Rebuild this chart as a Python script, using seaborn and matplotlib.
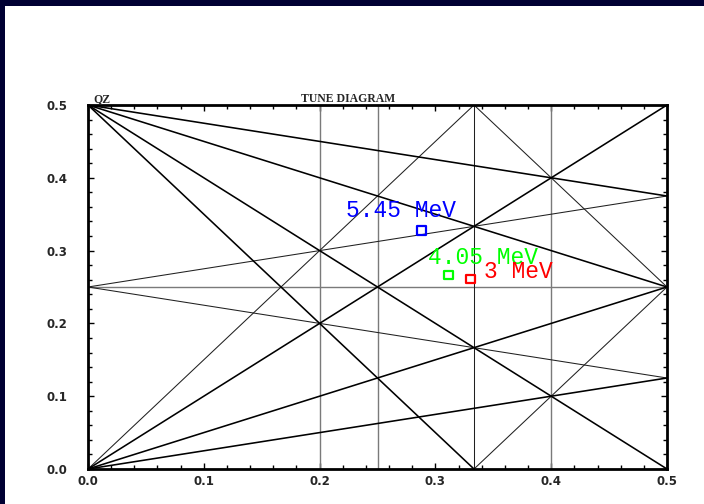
import numpy as np
import pandas as pd
import matplotlib
matplotlib.use("Agg")
import matplotlib.pyplot as plt
from matplotlib.patches import Rectangle
from matplotlib.ticker import MultipleLocator, FormatStrFormatter
import seaborn as sns

# Resonance lines  m*Qx + n*Qy = p  (heavy black)
heavy_m = [1, 1, 2, 3, 1, 1, 1]
heavy_n = [4, 2, 2, 2, -1, -2, -4]
heavy_p = [2, 1, 1, 1, 0, 0, 0]

# Resonance lines  m*Qx + n*Qy = p  (light black)
light_m = [3, -1, 1, 3, 3, 3]
light_n = [-2, 4, 4, 2, -2, 0]
light_p = [0, 1, 1, 2, 1, 1]

# Single-plane resonances (grey)
grey_m = [5, 4, 5, 0]
grey_n = [0, 0, 0, 4]
grey_p = [1, 1, 2, 1]

# Working points
energies = ["5.45 MeV", "4.05 MeV", "3 MeV"]
qx_points = [0.288, 0.311, 0.330]
qy_points = [0.328, 0.2665, 0.261]
point_colors = ["#0000ff", "#00ff00", "#ff0000"]
label_offsets = [(-21, 20), (35, 17), (48, 7)]

QMIN, QMAX = 0.0, 0.5


def clip_line(m, n, p, lo=QMIN, hi=QMAX, eps=1e-9):
    pts = []
    if n != 0:
        for x in (lo, hi):
            y = (p - m * x) / n
            if lo - eps <= y <= hi + eps:
                pts.append((x, y))
    if m != 0:
        for y in (lo, hi):
            x = (p - n * y) / m
            if lo - eps <= x <= hi + eps:
                pts.append((x, y))
    pts = sorted(set((round(a, 9), round(b, 9)) for a, b in pts))
    return pts[0], pts[-1]


def build(ms, ns, ps, tag):
    rows = []
    for i, (m, n, p) in enumerate(zip(ms, ns, ps)):
        a, b = clip_line(m, n, p)
        rows.append({"line": f"{tag}{i}", "qx": a[0], "qy": a[1]})
        rows.append({"line": f"{tag}{i}", "qx": b[0], "qy": b[1]})
    return pd.DataFrame(rows)


heavy = build(heavy_m, heavy_n, heavy_p, "h")
light = build(light_m, light_n, light_p, "l")
grey = build(grey_m, grey_n, grey_p, "g")

sns.set_theme(style="white")
plt.rcParams["font.family"] = ["DejaVu Sans"]

fig = plt.figure(figsize=(7.04, 5.04), dpi=100)
fig.patch.set_facecolor("white")
ax = fig.add_axes([88 / 704, 1 - 469 / 504, 579 / 704, 364 / 504])

sns.lineplot(data=grey, x="qx", y="qy", units="line", estimator=None, sort=False,
             color="#7a7a7a", linewidth=1.0, ax=ax)
sns.lineplot(data=light, x="qx", y="qy", units="line", estimator=None, sort=False,
             color="#202020", linewidth=0.75, ax=ax)
sns.lineplot(data=heavy, x="qx", y="qy", units="line", estimator=None, sort=False,
             color="black", linewidth=1.15, ax=ax)

for qx, qy, c, lab, off in zip(qx_points, qy_points, point_colors, energies, label_offsets):
    sns.scatterplot(x=[qx], y=[qy], marker="s", s=40, color=c, facecolor="none",
                    edgecolor=c, linewidth=1.6, ax=ax, zorder=5)
    ax.annotate(lab, (qx, qy), xytext=off, textcoords="offset pixels",
                ha="center", va="center", color=c, fontsize=16.5,
                family="Liberation Mono", zorder=6)

ax.set_xlim(QMIN, QMAX)
ax.set_ylim(QMIN, QMAX)
ax.set_xlabel("")
ax.set_ylabel("")
ax.xaxis.set_major_locator(MultipleLocator(0.1))
ax.yaxis.set_major_locator(MultipleLocator(0.1))
ax.xaxis.set_minor_locator(MultipleLocator(0.02))
ax.yaxis.set_minor_locator(MultipleLocator(0.02))
ax.xaxis.set_major_formatter(FormatStrFormatter("%.1f"))
ax.yaxis.set_major_formatter(FormatStrFormatter("%.1f"))
ax.tick_params(which="both", direction="in", top=True, right=True, bottom=True, left=True,
               color="black", width=1.0)
ax.tick_params(which="major", length=4)
ax.tick_params(which="minor", length=3)
ax.tick_params(axis="x", which="major", pad=4)
ax.tick_params(axis="y", which="major", pad=15)
for lab in ax.get_xticklabels() + ax.get_yticklabels():
    lab.set_fontweight("bold")
    lab.set_fontsize(8.5)
for sp in ax.spines.values():
    sp.set_color("black")
    sp.set_linewidth(2.0)
ax.grid(False)

ax.text(0.449, 1.016, "TUNE DIAGRAM", transform=ax.transAxes, ha="center", va="center",
        fontsize=8.5, fontweight="bold", family="Liberation Serif")
ax.text(0.024, 1.016, "QZ", transform=ax.transAxes, ha="center", va="center",
        fontsize=8.5, fontweight="bold", family="Liberation Serif")

# dark frame strips along the top and left edges
navy = "#000033"
fig.patches.append(Rectangle((0, 1 - 6 / 504), 1, 6 / 504, transform=fig.transFigure,
                             facecolor=navy, edgecolor="none", zorder=10))
fig.patches.append(Rectangle((0, 0), 5 / 704, 1, transform=fig.transFigure,
                             facecolor=navy, edgecolor="none", zorder=10))

fig.savefig("out.png", dpi=100)
